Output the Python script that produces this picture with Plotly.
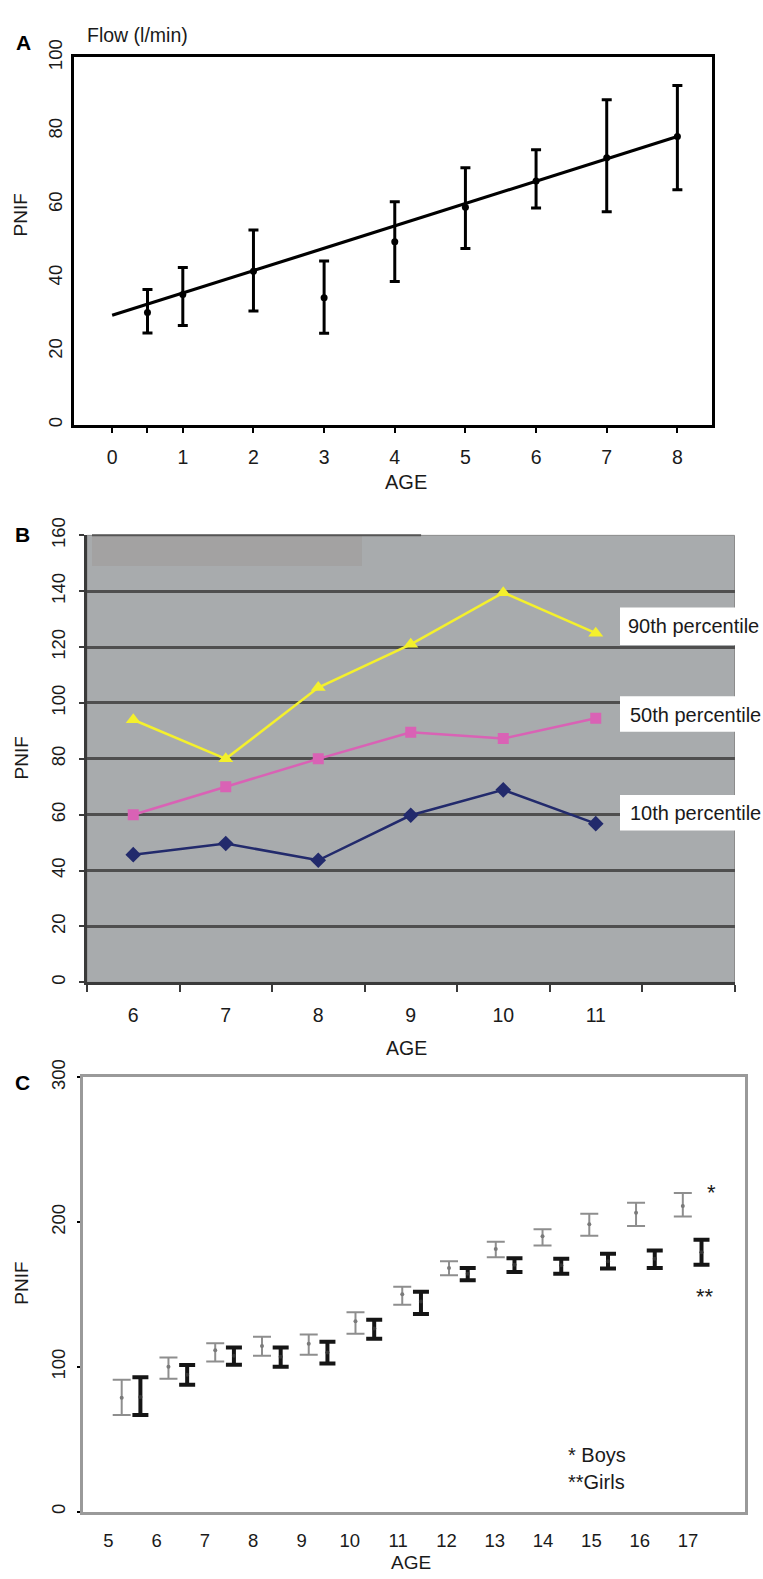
import plotly.graph_objects as go

W, H = 763, 1579

# ---------------- Panel A data ----------------
a_age = [0.5, 1, 2, 3, 4, 5, 6, 7, 8]
a_mean = [30.6, 35.5, 41.8, 34.6, 49.8, 59.2, 66.4, 72.7, 78.5]
a_upper = [36.8, 42.8, 53.0, 44.6, 60.7, 70.0, 74.9, 88.5, 92.4]
a_lower = [25.0, 27.0, 31.0, 24.9, 39.0, 48.0, 59.0, 58.0, 64.0]
a_fit_age = [0, 8]
a_fit_flow = [29.8, 78.5]
a_xtickvals = [0, 0.5, 1, 2, 3, 4, 5, 6, 7, 8]
a_xticktext = ["0", "", "1", "2", "3", "4", "5", "6", "7", "8"]
a_ytickvals = [0, 20, 40, 60, 80, 100]

# ---------------- Panel B data ----------------
b_age = [6, 7, 8, 9, 10, 11]
b_p90 = [94, 80, 105.5, 121, 139.5, 125]
b_p50 = [60, 70, 80, 89.5, 87.3, 94.5]
b_p10 = [45.7, 49.7, 43.7, 59.8, 68.9, 56.8]
b_labels = ["90th percentile", "50th percentile", "10th percentile"]
b_ytickvals = [0, 20, 40, 60, 80, 100, 120, 140, 160]
b_gridvals = [20, 40, 60, 80, 100, 120, 140]
b_boundaries = [5.5, 6.5, 7.5, 8.5, 9.5, 10.5, 11.5, 12.5]

# ---------------- Panel C data ----------------
c_age = [5, 6, 7, 8, 9, 10, 11, 12, 13, 14, 15, 16, 17]
boys_mean = [78.7, 100.1, 111.5, 114.4, 116.0, 131.5, 150.1, 168.3, 181.5, 190.2, 198.6, 206.5, 211.1]
boys_hi = [91.0, 106.4, 116.3, 120.8, 122.4, 137.8, 155.4, 172.9, 186.5, 195.1, 205.8, 213.3, 220.2]
boys_lo = [66.7, 91.7, 103.7, 107.6, 108.3, 122.8, 142.9, 163.3, 175.8, 183.8, 190.6, 197.4, 203.8]
girls_mean = [79.2, 94.6, 107.6, 106.9, 109.9, 126.5, 145.1, 164.4, 170.6, 170.2, 172.9, 174.7, 179.2]
girls_hi = [92.8, 101.2, 113.3, 113.3, 117.4, 132.6, 151.9, 168.3, 175.1, 174.7, 178.1, 180.4, 187.9]
girls_lo = [66.7, 87.6, 101.5, 100.1, 102.3, 119.4, 136.5, 159.9, 165.6, 164.4, 167.9, 168.3, 170.6]
c_xtickvals = [5, 6, 7, 8, 9, 10, 11, 12, 13, 14, 15, 16, 17]
c_ytickvals = [0, 100, 200, 300]

GIRLS_OFFSET = 0.4

ARIAL = "Liberation Sans, Arial, sans-serif"
NARROW = "Liberation Sans Narrow, Arial Narrow, Liberation Sans, Arial, sans-serif"


def fx(p):
    return p / W


def fy(p):
    return 1 - p / H


fig = go.Figure()

# ---- Panel A traces
fig.add_trace(go.Scatter(
    x=a_fit_age, y=a_fit_flow, mode="lines",
    line=dict(color="black", width=3.2),
    xaxis="x", yaxis="y", hoverinfo="skip"))
fig.add_trace(go.Scatter(
    x=a_age, y=a_mean, mode="markers",
    marker=dict(color="black", size=7),
    error_y=dict(type="data", symmetric=False,
                 array=[u - m for u, m in zip(a_upper, a_mean)],
                 arrayminus=[m - l for m, l in zip(a_mean, a_lower)],
                 color="black", thickness=3, width=5),
    xaxis="x", yaxis="y", hoverinfo="skip"))

# ---- Panel B traces
fig.add_trace(go.Scatter(
    x=b_age, y=b_p90, mode="lines+markers",
    line=dict(color="#f4f02c", width=2.5),
    marker=dict(symbol="triangle-up", size=13, color="#f4f02c"),
    xaxis="x2", yaxis="y2", hoverinfo="skip"))
fig.add_trace(go.Scatter(
    x=b_age, y=b_p50, mode="lines+markers",
    line=dict(color="#d962b5", width=2.5),
    marker=dict(symbol="square", size=11, color="#d962b5"),
    xaxis="x2", yaxis="y2", hoverinfo="skip"))
fig.add_trace(go.Scatter(
    x=b_age, y=b_p10, mode="lines+markers",
    line=dict(color="#222a6c", width=2.5),
    marker=dict(symbol="diamond", size=12, color="#222a6c"),
    xaxis="x2", yaxis="y2", hoverinfo="skip"))

# ---- Panel C traces
fig.add_trace(go.Scatter(
    x=c_age, y=boys_mean, mode="markers",
    marker=dict(color="#7a7a7a", size=4),
    error_y=dict(type="data", symmetric=False,
                 array=[h - m for h, m in zip(boys_hi, boys_mean)],
                 arrayminus=[m - l for m, l in zip(boys_mean, boys_lo)],
                 color="#8e8e8e", thickness=2, width=9),
    xaxis="x3", yaxis="y3", hoverinfo="skip"))
fig.add_trace(go.Scatter(
    x=[a + GIRLS_OFFSET for a in c_age], y=girls_mean, mode="markers",
    marker=dict(color="#333333", size=4),
    error_y=dict(type="data", symmetric=False,
                 array=[h - m for h, m in zip(girls_hi, girls_mean)],
                 arrayminus=[m - l for m, l in zip(girls_mean, girls_lo)],
                 color="#151515", thickness=4, width=8),
    xaxis="x3", yaxis="y3", hoverinfo="skip"))

tickfont = dict(family=ARIAL, size=18.5, color="#1a1a1a")

layout = dict(
    width=W, height=H, autosize=False,
    margin=dict(l=0, r=0, t=0, b=0),
    paper_bgcolor="white", plot_bgcolor="white",
    showlegend=False, hovermode=False,
    # Panel A
    xaxis=dict(domain=[fx(74), fx(712)], range=[-0.54, 8.49], anchor="y",
               tickvals=a_xtickvals, ticktext=a_xticktext,
               ticks="outside", ticklen=5, tickwidth=2, tickcolor="black",
               ticklabelstandoff=8,
               showline=True, mirror=True, linecolor="black", linewidth=3,
               showgrid=False, zeroline=False,
               tickfont=dict(family=NARROW, size=19.5, color="#1a1a1a")),
    yaxis=dict(domain=[fy(412), fy(40)], range=[0, 100], anchor="x",
               tickvals=a_ytickvals, ticks="", tickangle=-90,
               ticklabelstandoff=2,
               showline=True, mirror=True, linecolor="black", linewidth=3,
               showgrid=False, zeroline=False, tickfont=tickfont),
    # Panel B
    xaxis2=dict(domain=[fx(87), fx(734.5)], range=[5.5, 12.5], anchor="y2",
                tickvals=b_age, ticks="outside", ticklen=14,
                tickcolor="rgba(0,0,0,0)",
                minor=dict(tickvals=b_boundaries, ticks="outside", ticklen=7,
                           tickwidth=2, tickcolor="#3a3a3a", showgrid=False),
                showline=True, linecolor="#3a3a3a", linewidth=2.5,
                showgrid=False, zeroline=False,
                tickfont=dict(family=ARIAL, size=19.5, color="#1a1a1a")),
    yaxis2=dict(domain=[fy(976.7), fy(524)], range=[0, 160], anchor="x2",
                tickvals=b_ytickvals, ticks="outside", ticklen=5,
                tickcolor="#3a3a3a", tickwidth=2, tickangle=-90,
                ticklabelstandoff=7,
                showgrid=False,
                minor=dict(tickvals=b_gridvals, showgrid=True,
                           gridcolor="#4f4f4f", gridwidth=2.5, ticks=""),
                showline=True, linecolor="#3a3a3a", linewidth=2.5,
                zeroline=False, tickfont=tickfont),
    # Panel C (data axis)
    xaxis3=dict(domain=[fx(82.7), fx(745)], range=[4.166, 18.33], anchor="y3",
                showticklabels=False, ticks="",
                showline=True, mirror=True, linecolor="#9a9a9a", linewidth=2.5,
                showgrid=False, zeroline=False),
    # Panel C (label axis)
    xaxis4=dict(overlaying="x3", anchor="y3", range=[4.47, 18.18],
                tickvals=c_xtickvals, ticks="outside", ticklen=12,
                tickcolor="rgba(0,0,0,0)", showline=False,
                showgrid=False, zeroline=False, tickfont=tickfont),
    yaxis3=dict(domain=[fy(1512.7), fy(1073)], range=[0, 300], anchor="x3",
                tickvals=c_ytickvals, ticks="outside", ticklen=3,
                tickcolor="black", tickwidth=2, tickangle=-90,
                ticklabelstandoff=5,
                showline=True, mirror=True, linecolor="#9a9a9a", linewidth=2.5,
                showgrid=False, zeroline=False, tickfont=tickfont),
)
fig.update_layout(**layout)

# an invisible trace to activate the label axis x4
fig.add_trace(go.Scatter(x=[c_xtickvals[0]], y=[c_ytickvals[0]], mode="markers",
                         marker=dict(opacity=0), xaxis="x4", yaxis="y3",
                         hoverinfo="skip"))

shapes = [
    # Panel B background
    dict(type="rect", xref="x2 domain", yref="y2 domain", x0=0, x1=1, y0=0, y1=1,
         fillcolor="#a8abad", line=dict(color="#8c8c8c", width=1), layer="below"),
    # Panel B top-left patch
    dict(type="rect", xref="x2 domain", yref="y2 domain", x0=0.0077, x1=0.4247,
         y0=0.9315, y1=1, fillcolor="#a3a2a2", line=dict(width=0), layer="below"),
    dict(type="line", xref="x2 domain", yref="y2 domain", x0=0.0077, x1=0.516,
         y0=1, y1=1, line=dict(color="#555555", width=2)),
]
# white label boxes in panel B
for top, bot in [(597, 635), (687, 723), (787, 823)]:
    shapes.append(dict(type="rect", xref="paper", yref="paper",
                       x0=fx(620), x1=1, y0=fy(bot), y1=fy(top),
                       fillcolor="white", line=dict(width=0)))
fig.update_layout(shapes=shapes)


def ann(text, x, y, size=18, xanchor="center", angle=0, family=ARIAL, color="#1a1a1a"):
    return dict(text=text, x=fx(x), y=fy(y), xref="paper", yref="paper",
                xanchor=xanchor, yanchor="middle", showarrow=False,
                textangle=angle, font=dict(family=family, size=size, color=color))


annotations = [
    ann("<b>A</b>", 24, 25, size=21, color="black"),
    ann("<b>B</b>", 22, 523, size=21, color="black"),
    ann("<b>C</b>", 22, 1078, size=21, color="black"),
    ann("Flow (l/min)", 85, 17, size=19.5, xanchor="left"),
    ann("PNIF", 20, 200, size=19, angle=-90),
    ann("AGE", 406, 470, size=20, family=NARROW),
    ann("PNIF", 22, 750, size=19, angle=-90),
    ann("AGE", 406, 1043, size=19.5),
    ann("PNIF", 22, 1282, size=19, angle=-90),
    ann("AGE", 411, 1564, size=19),
    ann(b_labels[0], 626, 616, size=20, xanchor="left"),
    ann(b_labels[1], 628, 706, size=20, xanchor="left"),
    ann(b_labels[2], 628, 805, size=20, xanchor="left"),
    ann("*", 711, 1190, size=22),
    ann("**", 705, 1295, size=22),
    ann("* Boys", 566, 1455, size=20, xanchor="left"),
    ann("**Girls", 566, 1483, size=20, xanchor="left"),
]
fig.update_layout(annotations=annotations)

fig.write_html(
    "out.html",
    config={"displayModeBar": False},
    post_script="document.body.style.margin='0';document.body.style.overflow='hidden';",
)
